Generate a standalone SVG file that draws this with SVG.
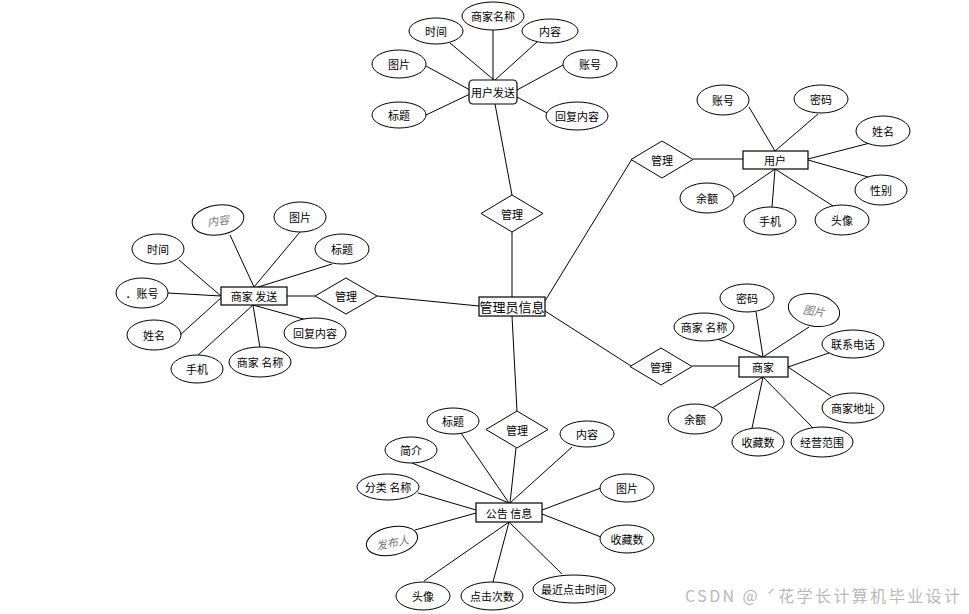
<svg xmlns="http://www.w3.org/2000/svg" width="969" height="614" viewBox="0 0 969 614">
<style>
text{font-family:"Noto Sans CJK SC","Liberation Sans",sans-serif;font-size:11px;fill:#000;text-anchor:middle;dominant-baseline:central}
.e{fill:#fff;stroke:#000;stroke-width:1}
.r{fill:#fff;stroke:#000;stroke-width:1.2}
.d{fill:#fff;stroke:#000;stroke-width:1}
.c line{stroke:#000;stroke-width:1}
.g{fill:#777;font-style:italic}
.big{font-size:13px}
.wm{font-size:16px;fill:#b8b8b8;text-anchor:start}
</style>
<rect width="969" height="614" fill="#fff"/>
<g id="connectors" class="c">
<line x1="450" y1="43" x2="494" y2="80"/>
<line x1="493" y1="30" x2="493" y2="80"/>
<line x1="537" y1="42" x2="495" y2="80"/>
<line x1="426" y1="66" x2="470" y2="90"/>
<line x1="426" y1="115" x2="470" y2="94"/>
<line x1="563" y1="65" x2="517" y2="90"/>
<line x1="547" y1="113" x2="517" y2="97"/>
<line x1="495" y1="104" x2="512" y2="195"/>
<line x1="512" y1="232" x2="512" y2="297"/>
<line x1="545" y1="301" x2="632" y2="159"/>
<line x1="693" y1="159" x2="743" y2="159"/>
<line x1="749" y1="107" x2="775" y2="151"/>
<line x1="818" y1="114" x2="775" y2="151"/>
<line x1="870" y1="143" x2="808" y2="159"/>
<line x1="868" y1="177" x2="808" y2="160"/>
<line x1="833" y1="206" x2="775" y2="169"/>
<line x1="772" y1="207" x2="775" y2="169"/>
<line x1="733" y1="198" x2="775" y2="169"/>
<line x1="377" y1="296" x2="479" y2="306"/>
<line x1="287" y1="296" x2="315" y2="296"/>
<line x1="230" y1="235" x2="254" y2="287"/>
<line x1="300" y1="232" x2="254" y2="287"/>
<line x1="332" y1="264" x2="255" y2="288"/>
<line x1="179" y1="260" x2="221" y2="296"/>
<line x1="168" y1="293" x2="221" y2="296"/>
<line x1="180" y1="335" x2="221" y2="298"/>
<line x1="197" y1="356" x2="253" y2="305"/>
<line x1="260" y1="348" x2="253" y2="305"/>
<line x1="307" y1="320" x2="253" y2="305"/>
<line x1="545" y1="311" x2="631" y2="366"/>
<line x1="692" y1="366" x2="739" y2="366"/>
<line x1="756" y1="312" x2="763" y2="357"/>
<line x1="809" y1="327" x2="763" y2="357"/>
<line x1="715" y1="338" x2="763" y2="357"/>
<line x1="829" y1="353" x2="788" y2="367"/>
<line x1="831" y1="396" x2="788" y2="367"/>
<line x1="712" y1="408" x2="763" y2="377"/>
<line x1="752" y1="428" x2="763" y2="377"/>
<line x1="813" y1="428" x2="763" y2="377"/>
<line x1="512" y1="316" x2="517" y2="411"/>
<line x1="516" y1="448" x2="510" y2="503"/>
<line x1="461" y1="433" x2="509" y2="503"/>
<line x1="412" y1="463" x2="509" y2="503"/>
<line x1="418" y1="493" x2="476" y2="510"/>
<line x1="415" y1="530" x2="476" y2="513"/>
<line x1="572" y1="447" x2="510" y2="503"/>
<line x1="601" y1="488" x2="542" y2="510"/>
<line x1="601" y1="537" x2="542" y2="514"/>
<line x1="562" y1="574" x2="509" y2="522"/>
<line x1="493" y1="582" x2="509" y2="522"/>
<line x1="424" y1="581" x2="509" y2="522"/>
</g>

<g id="admin"><rect class="r" x="479" y="297" width="66" height="19"/><text class="big" x="512" y="306.5">管理员信息</text></g>

<g id="user-send"><rect class="r" x="469" y="80" width="48" height="24" rx="4"/><text x="493" y="92">用户发送</text></g>
<g id="us-name"><ellipse class="e" cx="493" cy="16" rx="31" ry="14"/><text x="493" y="16">商家名称</text></g>
<g id="us-time"><ellipse class="e" cx="436" cy="31" rx="27" ry="13"/><text x="436" y="31">时间</text></g>
<g id="us-content"><ellipse class="e" cx="550" cy="31" rx="28" ry="12"/><text x="550" y="31">内容</text></g>
<g id="us-pic"><ellipse class="e" cx="399" cy="64" rx="27" ry="14"/><text x="399" y="64">图片</text></g>
<g id="us-acc"><ellipse class="e" cx="590" cy="64" rx="27" ry="14"/><text x="590" y="64">账号</text></g>
<g id="us-title"><ellipse class="e" cx="399" cy="115" rx="27" ry="13"/><text x="399" y="115">标题</text></g>
<g id="us-reply"><ellipse class="e" cx="577" cy="116" rx="31" ry="14"/><text x="577" y="116">回复内容</text></g>
<g id="mg-top"><polygon class="d" points="512,195 543,213.5 512,232 481,213.5"/><text x="512" y="213.5">管理</text></g>

<g id="user"><rect class="r" x="743" y="151" width="65" height="18"/><text x="775" y="160">用户</text></g>
<g id="mg-user"><polygon class="d" points="662,141 693,159.5 662,178 631,159.5"/><text x="662" y="159.5">管理</text></g>
<g id="u-acc"><ellipse class="e" cx="723" cy="100" rx="26" ry="15"/><text x="723" y="100">账号</text></g>
<g id="u-pwd"><ellipse class="e" cx="821" cy="99" rx="27" ry="14"/><text x="821" y="99">密码</text></g>
<g id="u-name"><ellipse class="e" cx="883" cy="131" rx="27" ry="15"/><text x="883" y="131">姓名</text></g>
<g id="u-sex"><ellipse class="e" cx="881" cy="190" rx="26" ry="15"/><text x="881" y="190">性别</text></g>
<g id="u-avatar"><ellipse class="e" cx="842" cy="220" rx="27" ry="15"/><text x="842" y="220">头像</text></g>
<g id="u-phone"><ellipse class="e" cx="770" cy="221" rx="26" ry="14"/><text x="770" y="221">手机</text></g>
<g id="u-bal"><ellipse class="e" cx="707" cy="198" rx="27" ry="15"/><text x="707" y="198">余额</text></g>

<g id="merchant-send"><rect class="r" x="221" y="287" width="66" height="18"/><text x="254" y="296">商家 发送</text></g>
<g id="mg-left"><polygon class="d" points="346,278 377,296 346,314 315,296"/><text x="346" y="296">管理</text></g>
<g id="ms-content"><ellipse class="e" cx="218" cy="220" rx="26" ry="15" transform="rotate(-8 218 220)"/><text class="g" x="218" y="220" transform="rotate(-8 218 220)">内容</text></g>
<g id="ms-pic"><ellipse class="e" cx="300" cy="217" rx="26" ry="15"/><text x="300" y="217">图片</text></g>
<g id="ms-time"><ellipse class="e" cx="158" cy="249" rx="26" ry="15"/><text x="158" y="249">时间</text></g>
<g id="ms-title"><ellipse class="e" cx="342" cy="249" rx="27" ry="15"/><text x="342" y="249">标题</text></g>
<g id="ms-acc"><ellipse class="e" cx="142" cy="293" rx="26" ry="15"/><text x="142" y="293">．账号</text></g>
<g id="ms-name"><ellipse class="e" cx="154" cy="335" rx="27" ry="15"/><text x="154" y="335">姓名</text></g>
<g id="ms-reply"><ellipse class="e" cx="315" cy="333" rx="31" ry="15"/><text x="315" y="333">回复内容</text></g>
<g id="ms-phone"><ellipse class="e" cx="197" cy="369" rx="26" ry="14"/><text x="197" y="369">手机</text></g>
<g id="ms-mname"><ellipse class="e" cx="260" cy="362" rx="31" ry="15"/><text x="260" y="362">商家 名称</text></g>

<g id="merchant"><rect class="r" x="739" y="357" width="49" height="20"/><text x="763" y="367">商家</text></g>
<g id="mg-merchant"><polygon class="d" points="661,348 692,366.5 661,385 630,366.5"/><text x="661" y="366.5">管理</text></g>
<g id="m-pwd"><ellipse class="e" cx="747" cy="298" rx="27" ry="14"/><text x="747" y="298">密码</text></g>
<g id="m-pic"><ellipse class="e" cx="814" cy="310" rx="26" ry="16" transform="rotate(12 814 310)"/><text class="g" x="814" y="310" transform="rotate(8 814 310)">图片</text></g>
<g id="m-name"><ellipse class="e" cx="704" cy="327" rx="30" ry="14"/><text x="704" y="327">商家 名称</text></g>
<g id="m-tel"><ellipse class="e" cx="853" cy="344" rx="31" ry="14"/><text x="853" y="344">联系电话</text></g>
<g id="m-addr"><ellipse class="e" cx="853" cy="408" rx="31" ry="15"/><text x="853" y="408">商家地址</text></g>
<g id="m-bal"><ellipse class="e" cx="695" cy="419" rx="27" ry="15"/><text x="695" y="419">余额</text></g>
<g id="m-fav"><ellipse class="e" cx="758" cy="442" rx="26" ry="14"/><text x="758" y="442">收藏数</text></g>
<g id="m-scope"><ellipse class="e" cx="822" cy="442" rx="31" ry="15"/><text x="822" y="442">经营范围</text></g>

<g id="notice"><rect class="r" x="476" y="503" width="66" height="19"/><text x="509" y="512.5">公告 信息</text></g>
<g id="mg-bottom"><polygon class="d" points="517,411 548,429.5 517,448 486,429.5"/><text x="517" y="429.5">管理</text></g>
<g id="n-title"><ellipse class="e" cx="453" cy="421" rx="26" ry="13"/><text x="453" y="421">标题</text></g>
<g id="n-intro"><ellipse class="e" cx="411" cy="450" rx="26" ry="13"/><text x="411" y="450">简介</text></g>
<g id="n-cat"><ellipse class="e" cx="388" cy="487" rx="31" ry="13"/><text x="388" y="487">分类 名称</text></g>
<g id="n-pub"><ellipse class="e" cx="392" cy="541" rx="26" ry="14" transform="rotate(-12 392 541)"/><text class="g" x="392" y="542" transform="rotate(-12 392 541)">发布人</text></g>
<g id="n-content"><ellipse class="e" cx="587" cy="434" rx="27" ry="13"/><text x="587" y="434">内容</text></g>
<g id="n-pic"><ellipse class="e" cx="627" cy="488" rx="27" ry="14"/><text x="627" y="488">图片</text></g>
<g id="n-fav"><ellipse class="e" cx="627" cy="539" rx="27" ry="14"/><text x="627" y="539">收藏数</text></g>
<g id="n-last"><ellipse class="e" cx="574" cy="589" rx="41" ry="14"/><text x="574" y="589">最近点击时间</text></g>
<g id="n-clicks"><ellipse class="e" cx="492" cy="596" rx="31" ry="14"/><text x="492" y="596">点击次数</text></g>
<g id="n-avatar"><ellipse class="e" cx="423" cy="596" rx="27" ry="14"/><text x="423" y="596">头像</text></g>

<text class="wm" x="685" y="595" textLength="275" lengthAdjust="spacing">CSDN @ ˊ花学长计算机毕业设计</text>
</svg>
